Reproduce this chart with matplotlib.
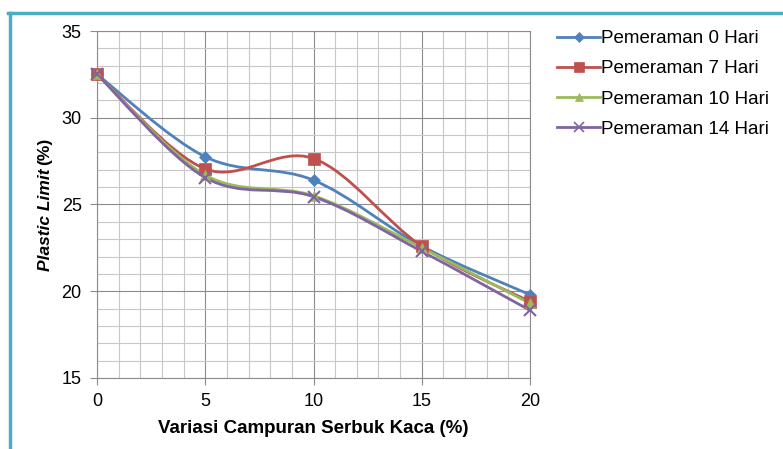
import matplotlib
matplotlib.use("Agg")
import matplotlib.pyplot as plt
from matplotlib.path import Path
from matplotlib.patches import PathPatch
from matplotlib.lines import Line2D
from matplotlib.ticker import MultipleLocator

plt.rcParams['font.family'] = ['Liberation Sans', 'DejaVu Sans']

# data
kaca = [0, 5, 10, 15, 20]
hari_0 = [32.5, 27.75, 26.4, 22.6, 19.8]
hari_7 = [32.5, 27.05, 27.65, 22.6, 19.4]
hari_10 = [32.5, 26.7, 25.5, 22.5, 19.3]
hari_14 = [32.5, 26.55, 25.45, 22.3, 18.9]
labels = ['Pemeraman 0 Hari', 'Pemeraman 7 Hari', 'Pemeraman 10 Hari', 'Pemeraman 14 Hari']

colors = ['#4F81BD', '#C0504D', '#9BBB59', '#8064A2']
markers = ['D', 's', '^', 'x']
msizes = [6, 8, 7, 8]


def smooth_path(xs, ys):
    # excel style smoothed line: cubic bezier through the points
    pts = list(zip(xs, ys))
    n = len(pts)
    verts = [pts[0]]
    codes = [Path.MOVETO]
    for i in range(n - 1):
        p0 = pts[max(i - 1, 0)]
        p1 = pts[i]
        p2 = pts[i + 1]
        p3 = pts[min(i + 2, n - 1)]
        c1 = (p1[0] + (p2[0] - p0[0]) / 6, p1[1] + (p2[1] - p0[1]) / 6)
        c2 = (p2[0] - (p3[0] - p1[0]) / 6, p2[1] - (p3[1] - p1[1]) / 6)
        verts += [c1, c2, p2]
        codes += [Path.CURVE4] * 3
    return Path(verts, codes)


fig = plt.figure(figsize=(7.83, 4.49), dpi=100)
ax = fig.add_axes([97 / 783, 1 - 378 / 449, 433 / 783, 347 / 449])

series = [hari_0, hari_7, hari_10, hari_14]
handles = []
for ys, c, m, ms, lab in zip(series, colors, markers, msizes, labels):
    ax.add_patch(PathPatch(smooth_path(kaca, ys), facecolor='none', edgecolor=c, lw=2, zorder=3))
    ax.plot(kaca, ys, linestyle='none', marker=m, color=c, markersize=ms,
            markeredgewidth=1.5 if m == 'x' else 0.5, zorder=4, clip_on=False)
    handles.append(Line2D([], [], color=c, lw=2, marker=m, markersize=ms - 1,
                          markeredgewidth=1.2 if m == 'x' else 0.5))

ax.set_xlim(0, 20)
ax.set_ylim(15, 35)
ax.xaxis.set_major_locator(MultipleLocator(5))
ax.yaxis.set_major_locator(MultipleLocator(5))
ax.xaxis.set_minor_locator(MultipleLocator(1))
ax.yaxis.set_minor_locator(MultipleLocator(1))
ax.grid(which='major', color='#8c8c8c', lw=0.8)
ax.grid(which='minor', color='#c8c8c8', lw=0.8)
ax.set_axisbelow(True)
for s in ax.spines.values():
    s.set_color('#8c8c8c')
    s.set_linewidth(0.8)
ax.tick_params(which='major', direction='out', length=5, color='#8c8c8c',
               labelsize=13, pad=6)
ax.tick_params(which='minor', length=0)

ax.set_xlabel('Variasi Campuran Serbuk Kaca (%)', fontsize=13.5, fontweight='bold', labelpad=7)
fig.text(45 / 783, 1 - 220 / 449, 'Plastic Limit', rotation=90, fontsize=12.5,
         fontweight='bold', fontstyle='italic', ha='center', va='center')
fig.text(45 / 783, 1 - 151 / 449, '(%)', rotation=90, fontsize=12.5,
         fontweight='bold', ha='center', va='center')

fig.legend(handles=handles, labels=labels, loc='upper left',
           bbox_to_anchor=(557 / 783, 1 - 30 / 449), frameon=False,
           fontsize=13.5, handlelength=2.3, handletextpad=0.05, labelspacing=0.7,
           borderaxespad=0, borderpad=0)

# chart area border (teal, left and top edges visible)
fig.add_artist(Line2D([9.5 / 783, 9.5 / 783], [0, 1 - 12.5 / 449], color='#4BACC6', lw=2.5))
fig.add_artist(Line2D([8.3 / 783, 1], [1 - 12.5 / 449, 1 - 12.5 / 449], color='#4BACC6', lw=2.5))

fig.savefig('out.png', dpi=100)
